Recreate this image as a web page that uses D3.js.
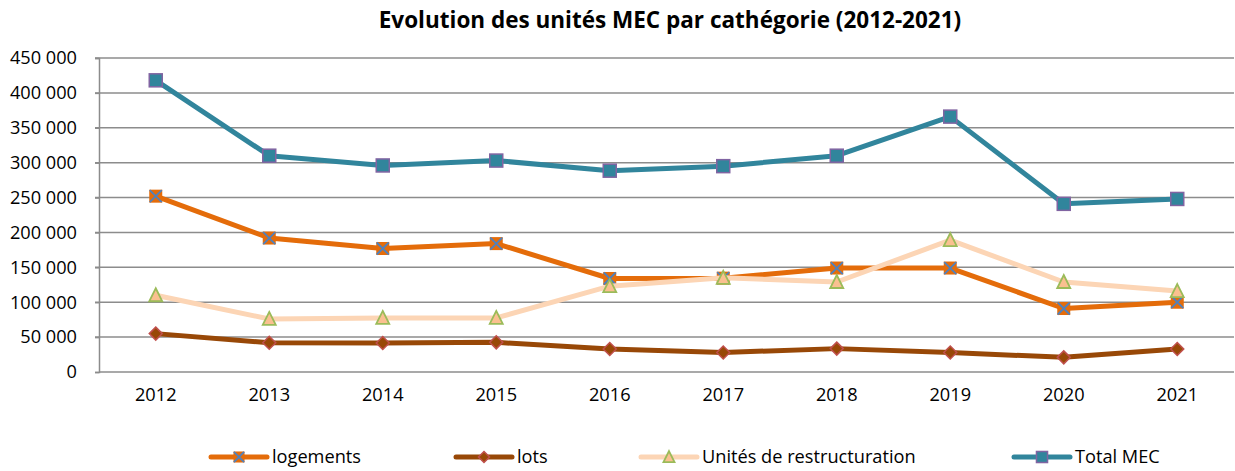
<!DOCTYPE html>
<html><head><meta charset="utf-8">
<script src="https://cdn.jsdelivr.net/npm/d3@7"></script>
<style>body{margin:0;background:#fff;} text{font-family:"Open Sans",sans-serif;fill:#000;}</style>
</head><body>
<svg id="c" width="1235" height="471"></svg>
<script>
const years = ["2012","2013","2014","2015","2016","2017","2018","2019","2020","2021"];
const logements = [252000,192000,177000,184000,134000,134500,149000,149000,91000,100000];
const lots = [55000,42000,41500,42500,33000,28000,33500,28000,21000,33000];
const restructuration = [110000,76000,77500,77500,123000,135000,129000,189000,129000,116000];
const totalMEC = [418000,310000,296000,303000,288500,295000,310000,366000,241000,248000];
const yTicks = [0,50000,100000,150000,200000,250000,300000,350000,400000,450000];
const title = "Evolution des unités MEC par cathégorie (2012-2021)";

const series = [
  {name:"logements", values:logements, line:"#E46C0A", fill:"#E46C0A", stroke:"#4F81BD", shape:"x"},
  {name:"lots", values:lots, line:"#984807", fill:"#984807", stroke:"#C0504D", shape:"diamond"},
  {name:"Unités de restructuration", values:restructuration, line:"#FCD5B5", fill:"#FAC090", stroke:"#9BBB59", shape:"triangle"},
  {name:"Total MEC", values:totalMEC, line:"#31859C", fill:"#31859C", stroke:"#8064A2", shape:"square"}
];

const svg = d3.select("#c");
const m = {l:99, r:1234, t:58, b:372};
const x = d3.scaleBand().domain(years).range([m.l, m.r]);
const y = d3.scaleLinear().domain([0,450000]).range([m.b, m.t]);
const fmt = v => d3.format(",")(v).replace(/,/g, " ");

svg.append("text").attr("x", 670).attr("y", 28).attr("text-anchor","middle")
  .style("font-weight","bold").style("font-size","22.5px").text(title);

// grid
svg.append("g").selectAll("line").data(yTicks.filter(d=>d>0)).join("line")
  .attr("x1", m.l-4).attr("x2", m.r).attr("y1", d=>y(d)).attr("y2", d=>y(d))
  .attr("stroke","#8c8c8c").attr("stroke-width",1.5);

const ya = svg.append("g").attr("transform",`translate(${m.l},0)`)
  .call(d3.axisLeft(y).tickValues(yTicks).tickFormat(fmt).tickSize(4).tickPadding(18));
ya.select(".domain").attr("stroke","#8c8c8c").attr("stroke-width",1.5);
ya.selectAll(".tick line").attr("stroke","#8c8c8c").attr("stroke-width",1.5);
ya.selectAll("text").style("font-size","18.2px").style("font-family","Open Sans").attr("fill","#000");

const xa = svg.append("g").attr("transform",`translate(0,${m.b})`)
  .call(d3.axisBottom(x).tickSize(0).tickPadding(16));
xa.select(".domain").attr("stroke","#8c8c8c").attr("stroke-width",1.5).attr("d",`M${m.l},0H${m.r}`);
xa.selectAll("text").style("font-size","18.2px").style("font-family","Open Sans").attr("fill","#000");

function marker(g, s, cx, cy, scale){
  const k = scale||1;
  if(s.shape==="square"){
    g.append("rect").attr("x",cx-6.5*k).attr("y",cy-6.5*k).attr("width",13*k).attr("height",13*k)
      .attr("fill",s.fill).attr("stroke",s.stroke).attr("stroke-width",1.5);
  } else if(s.shape==="diamond"){
    g.append("path").attr("d",`M${cx},${cy-6.5*k}L${cx+6.5*k},${cy}L${cx},${cy+6.5*k}L${cx-6.5*k},${cy}Z`)
      .attr("fill",s.fill).attr("stroke",s.stroke).attr("stroke-width",1.5);
  } else if(s.shape==="triangle"){
    g.append("path").attr("d",`M${cx},${cy-7*k}L${cx+6.5*k},${cy+6*k}L${cx-6.5*k},${cy+6*k}Z`)
      .attr("fill",s.fill).attr("stroke",s.stroke).attr("stroke-width",1.8);
  } else {
    g.append("rect").attr("x",cx-6.5*k).attr("y",cy-6.5*k).attr("width",13*k).attr("height",13*k)
      .attr("fill",s.fill).attr("stroke","none");
    g.append("path").attr("d",`M${cx-6*k},${cy-6*k}L${cx+6*k},${cy+6*k}M${cx+6*k},${cy-6*k}L${cx-6*k},${cy+6*k}`)
      .attr("stroke",s.stroke).attr("stroke-width",1.8);
  }
}

const line = d3.line().x((d,i)=>x(years[i])+x.bandwidth()/2).y(d=>y(d));
series.forEach(s=>{
  const g = svg.append("g");
  g.append("path").datum(s.values).attr("d",line).attr("fill","none")
    .attr("stroke",s.line).attr("stroke-width",5).attr("stroke-linejoin","round");
  s.values.forEach((v,i)=>marker(g,s,x(years[i])+x.bandwidth()/2,y(v)));
});

// legend
const legX = [211, 456, 641, 1014];
const ly = 457;
series.forEach((s,i)=>{
  const g = svg.append("g");
  g.append("line").attr("x1",legX[i]).attr("x2",legX[i]+56).attr("y1",ly).attr("y2",ly)
    .attr("stroke",s.line).attr("stroke-width",5).attr("stroke-linecap","round");
  marker(g,s,legX[i]+28,ly,0.85);
  g.append("text").attr("x",legX[i]+61).attr("y",ly+6).style("font-size","18.2px").text(s.name);
});
</script>
</body></html>
